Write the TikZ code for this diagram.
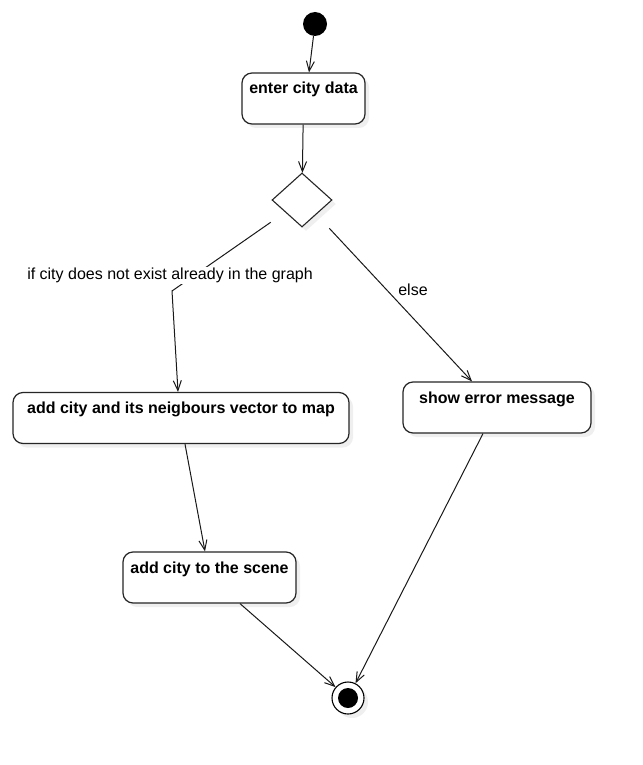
\documentclass[tikz,border=0pt]{standalone}
\usepackage{fontspec}
\setmainfont{Liberation Sans}
\usetikzlibrary{arrows.meta,shapes.geometric,calc,shadows}
\begin{document}
\begin{tikzpicture}[x=1pt,y=-1pt,
  act/.style={draw=black!85, line width=1.2pt, rounded corners=10pt, fill=white,
    font=\fontsize{16}{18}\selectfont\bfseries, inner xsep=4pt, inner ysep=6pt,
    text height=15pt, text depth=24pt,
    drop shadow={opacity=0.12, shadow xshift=4pt, shadow yshift=-4pt}},
  arr/.style={draw=black!90, line width=1pt, -{Straight Barb[length=10pt,width=8pt,line width=1pt]}},
  lbl/.style={fill=white, font=\fontsize{16}{18}\selectfont, inner sep=1pt}
]
\useasboundingbox (0,0) rectangle (642,765);
\fill[white] (0,0) rectangle (642,765);

\node[circle, fill=black, minimum size=24pt, inner sep=0] (start) at (315,24) {};
\node[act, minimum width=123pt, minimum height=51pt] (enter) at (303.5,98.5) {enter city data};
\node[diamond, draw=black!85, line width=1.1pt, fill=white, minimum width=60pt, minimum height=54pt, inner sep=0,
  drop shadow={opacity=0.12, shadow xshift=4pt, shadow yshift=-4pt}] (dec) at (302,200) {};
\node[act, minimum width=336pt, minimum height=51pt] (add) at (181,418) {add city and its neigbours vector to map};
\node[act, minimum width=188pt, minimum height=51pt] (err) at (497,407.5) {show error message};
\node[act, minimum width=173pt, minimum height=51pt] (scene) at (209.5,577.5) {add city to the scene};
\node[circle, draw=black, line width=1.1pt, fill=white, minimum size=32pt, inner sep=0,
  drop shadow={opacity=0.12, shadow xshift=4pt, shadow yshift=-4pt}] (final) at (348,698) {};
\node[circle, fill=black, minimum size=20pt, inner sep=0] (finaldot) at (final) {};

\coordinate (lstart) at ($(dec.south west)+(-16,8.5)$);
\coordinate (lbend) at (172,291);
\coordinate (rstart) at ($(dec.south east)+(12,14.5)$);

\draw[arr] (start) -- ($(enter.north)+(5.5,0)$);
\draw[arr] (enter) -- (dec);
\draw[arr] (lstart) -- (lbend) -- ($(add.north)+(-3,0)$);
\draw[arr] (rstart) -- ($(err.north)+(-25,0)$);
\draw[arr] ($(add.south)+(4,0)$) -- ($(scene.north)+(-4.5,0)$);
\draw[arr] ($(scene.south)+(30.5,0)$) -- (final);
\draw[arr] ($(err.south)+(-14,0)$) -- (final);

\node[lbl] (lcond) at (170,275.5) {if city does not exist already in the graph};
\node[lbl] (lelse) at (413,290) {else};
\end{tikzpicture}
\end{document}
